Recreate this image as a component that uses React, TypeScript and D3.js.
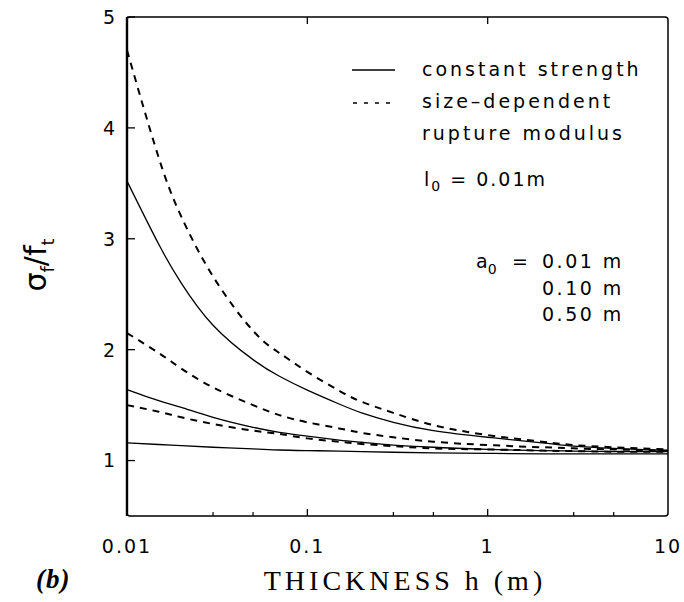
import React from "react";
import * as d3 from "d3";

// thickness h (m)
const thickness = [0.01, 0.015, 0.02, 0.03, 0.05, 0.07, 0.1, 0.15, 0.2, 0.3, 0.5, 1, 2, 3, 5, 10];
// constant strength curves
const constA001 = [3.52, 2.95, 2.6, 2.22, 1.91, 1.76, 1.635, 1.51, 1.43, 1.345, 1.27, 1.21, 1.16, 1.13, 1.11, 1.09];
const constA010 = [1.64, 1.54, 1.48, 1.39, 1.3, 1.255, 1.22, 1.185, 1.165, 1.14, 1.12, 1.1, 1.09, 1.085, 1.08, 1.08];
const constA050 = [1.16, 1.145, 1.135, 1.12, 1.105, 1.095, 1.09, 1.085, 1.08, 1.075, 1.07, 1.065, 1.06, 1.06, 1.06, 1.06];
// size-dependent rupture modulus curves
const sizeA001 = [4.7, 3.73, 3.2, 2.66, 2.17, 1.97, 1.8, 1.63, 1.53, 1.43, 1.32, 1.23, 1.17, 1.14, 1.12, 1.1];
const sizeA010 = [2.15, 1.97, 1.83, 1.66, 1.5, 1.41, 1.345, 1.29, 1.25, 1.21, 1.17, 1.14, 1.12, 1.11, 1.1, 1.09];
const sizeA050 = [1.5, 1.44, 1.39, 1.33, 1.27, 1.24, 1.2, 1.17, 1.15, 1.13, 1.11, 1.1, 1.09, 1.085, 1.08, 1.08];

const xMajor = [0.1, 1];
const xMinor = [0.03, 0.05, 0.3, 0.5, 3, 5];
const xLabels = [
  { v: 0.01, t: "0.01" },
  { v: 0.1, t: "0.1" },
  { v: 1, t: "1" },
  { v: 10, t: "10" },
];
const yTicks = [1, 2, 3, 4, 5];
const a0Values = ["0.01 m", "0.10 m", "0.50 m"];

export default function App() {
  const left = 127, right = 668, top = 17, bottom = 516;
  const x = d3.scaleLog().domain([0.01, 10]).range([left, right]);
  const y = d3.scaleLinear().domain([0.5, 5]).range([bottom, top]);
  const line = d3
    .line<number>()
    .x((_, i) => x(thickness[i]))
    .y((d) => y(d))
    .curve(d3.curveNatural);

  const solid = [constA001, constA010, constA050];
  const dashed = [sizeA001, sizeA010, sizeA050];
  const sans = "DejaVu Sans, sans-serif";
  const serif = "Liberation Serif, serif";

  return (
    <svg
      width={684}
      height={602}
      style={{ position: "absolute", left: 0, top: 0, background: "#fff" }}
    >
      <rect x={0} y={0} width={684} height={602} fill="#fff" />
      {/* frame */}
      <rect
        x={left}
        y={top}
        width={right - left}
        height={bottom - top}
        rx={3}
        fill="none"
        stroke="#000"
        strokeWidth={1.5}
      />
      <line x1={left} x2={left} y1={top} y2={bottom} stroke="#000" strokeWidth={2.4} />
      {/* y ticks */}
      {yTicks.map((v) => (
        <g key={v}>
          <line x1={left} x2={left + 8} y1={y(v)} y2={y(v)} stroke="#000" strokeWidth={1.3} />
          <text
            x={115}
            y={y(v)}
            dy="0.36em"
            textAnchor="end"
            fontFamily={sans}
            fontSize={19}
          >
            {v}
          </text>
        </g>
      ))}
      {/* x ticks */}
      {xMajor.map((v) => (
        <g key={v}>
          <line x1={x(v)} x2={x(v)} y1={bottom} y2={bottom - 7} stroke="#000" strokeWidth={1.3} />
          <line x1={x(v)} x2={x(v)} y1={top} y2={top + 7} stroke="#000" strokeWidth={1.3} />
        </g>
      ))}
      {xMinor.map((v) => (
        <line key={v} x1={x(v)} x2={x(v)} y1={bottom} y2={bottom - 4} stroke="#000" strokeWidth={1.2} />
      ))}
      {xLabels.map((d) => (
        <text
          key={d.t}
          x={x(d.v)}
          y={553}
          textAnchor="middle"
          fontFamily={sans}
          fontSize={19}
          letterSpacing={2}
        >
          {d.t}
        </text>
      ))}
      {/* curves */}
      {solid.map((s, i) => (
        <path key={"s" + i} d={line(s) || ""} fill="none" stroke="#000" strokeWidth={1.3} />
      ))}
      {dashed.map((s, i) => (
        <path
          key={"d" + i}
          d={line(s) || ""}
          fill="none"
          stroke="#000"
          strokeWidth={2}
          strokeDasharray="7,6"
        />
      ))}
      {/* legend */}
      <line x1={352} x2={395} y1={70} y2={70} stroke="#000" strokeWidth={1.3} />
      <text x={422} y={76} fontFamily={sans} fontSize={19} letterSpacing={3}>
        constant strength
      </text>
      <line x1={353} x2={395} y1={103} y2={103} stroke="#000" strokeWidth={1.6} strokeDasharray="4,7" />
      <text x={422} y={108} fontFamily={sans} fontSize={19} letterSpacing={3}>
        size–dependent
      </text>
      <text x={422} y={140} fontFamily={sans} fontSize={19} letterSpacing={3}>
        rupture modulus
      </text>
      <text x={424} y={186} fontFamily={sans} fontSize={19} letterSpacing={2}>
        l
        <tspan fontSize={14} dy={5}>0</tspan>
        <tspan dy={-5}> = 0.01m</tspan>
      </text>
      <text x={476} y={268} fontFamily={sans} fontSize={19}>
        a
        <tspan fontSize={14} dy={6}>0</tspan>
        <tspan dy={-6} x={512}>=</tspan>
      </text>
      {a0Values.map((t, i) => (
        <text key={t} x={542} y={268 + i * 26.5} fontFamily={sans} fontSize={19} letterSpacing={2.5}>
          {t}
        </text>
      ))}
      {/* y axis title */}
      <text
        transform="translate(46,265) rotate(-90)"
        textAnchor="middle"
        fontFamily={sans}
        fontSize={30}
      >
        σ
        <tspan fontSize={18} dy={8}>f</tspan>
        <tspan dy={-8}>/f</tspan>
        <tspan fontSize={18} dy={8}>t</tspan>
      </text>
      {/* x axis title */}
      <text
        x={405}
        y={590}
        textAnchor="middle"
        fontFamily={serif}
        fontSize={28}
        letterSpacing={4}
      >
        THICKNESS h (m)
      </text>
      <text x={36} y={588} fontFamily={serif} fontSize={27} fontStyle="italic" fontWeight="bold" letterSpacing={1}>
        (b)
      </text>
    </svg>
  );
}
